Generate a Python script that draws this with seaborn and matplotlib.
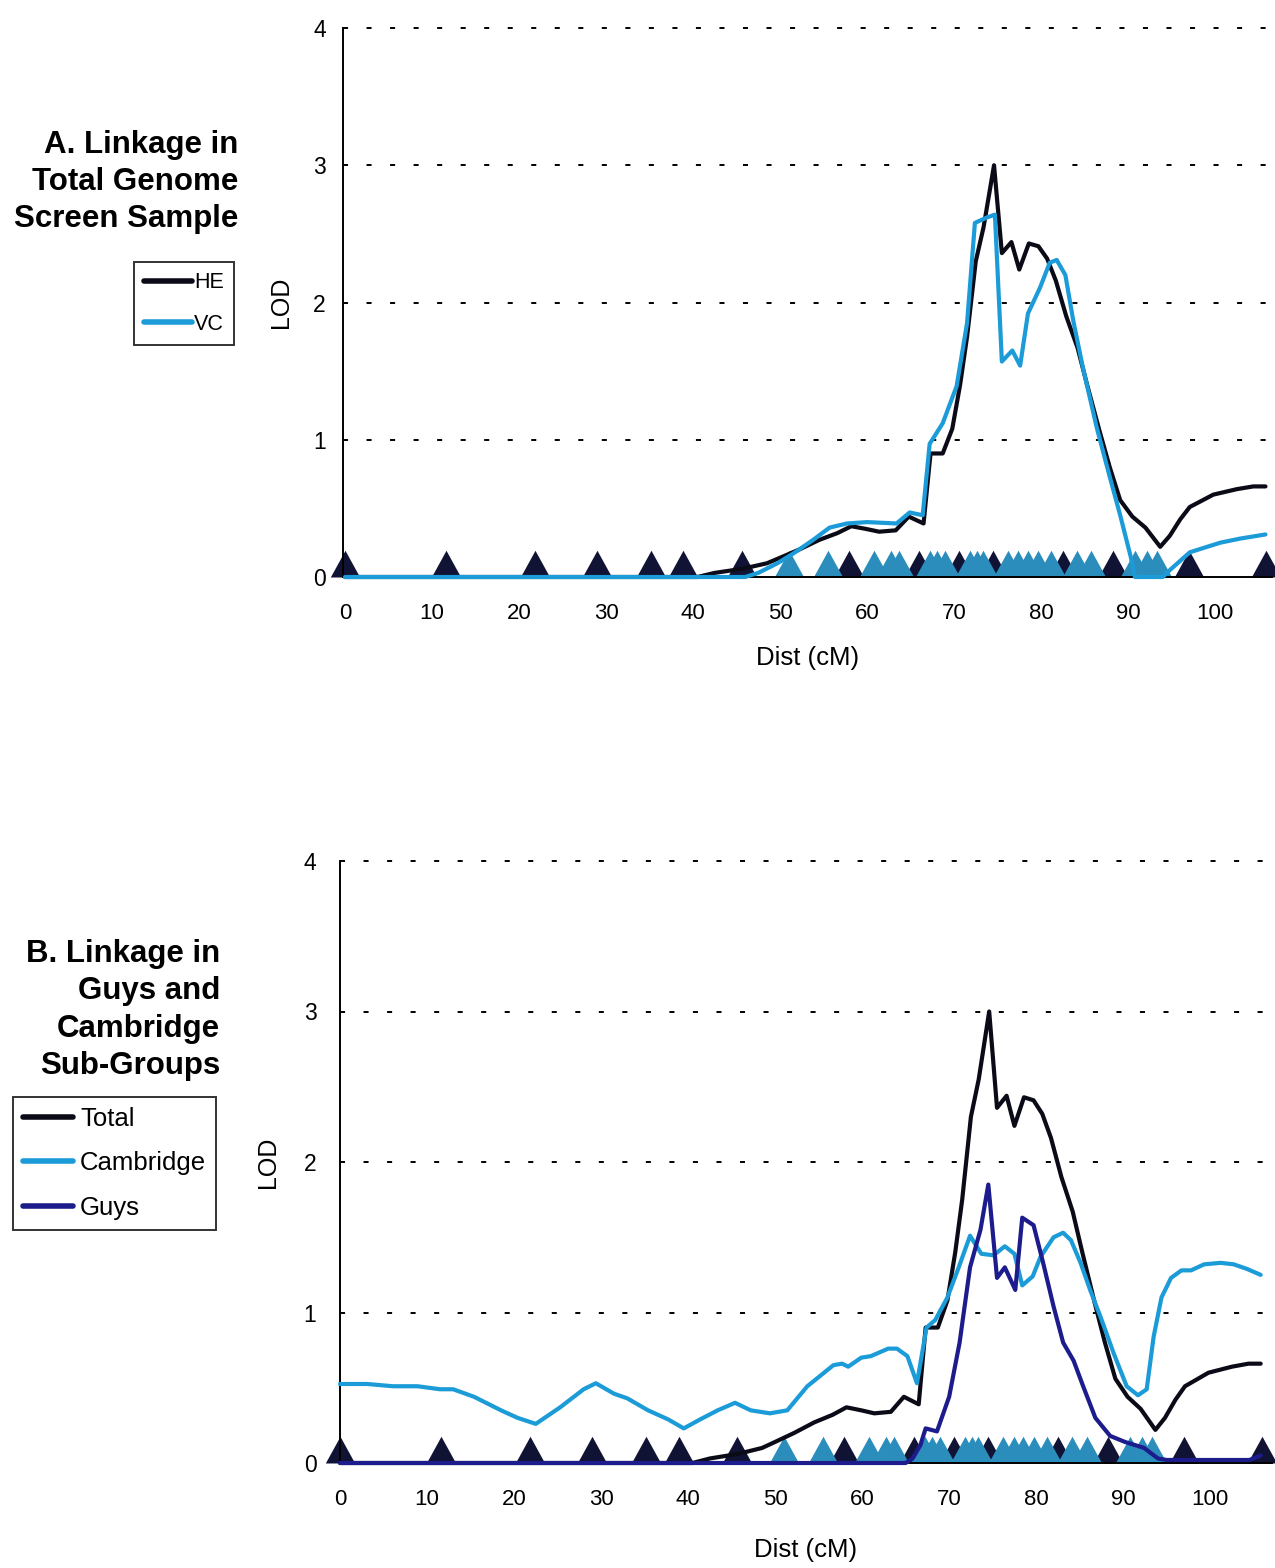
import numpy as np
import matplotlib
matplotlib.use("Agg")
import matplotlib.pyplot as plt
from matplotlib.markers import MarkerStyle
import seaborn as sns

# ---- marker positions along the chromosome (cM) ----
marker_dark_cm = [0, 11.6, 21.8, 29.0, 35.2, 38.9, 45.6, 57.9, 66.0, 70.6,
                  74.5, 82.5, 88.3, 97.0, 105.9]
marker_light_cm = [51.0, 55.5, 60.8, 62.8, 63.7, 67.2, 68.0, 69.0, 71.8, 72.6,
                   73.3, 76.2, 77.4, 78.5, 79.7, 81.2, 84.1, 85.8, 90.8, 92.2, 93.3]

# ---- HE / Total sample LOD curve ----
he_cm = [0, 40.5, 42.5, 45.7, 48.5, 50.0, 52.2, 54.5, 56.6, 58.2, 59.9, 61.4,
         63.3, 64.8, 66.5, 67.3, 68.7, 69.8, 70.7, 71.5, 72.5, 73.4, 74.6, 75.5,
         76.6, 77.5, 78.6, 79.7, 80.7, 81.7, 82.9, 84.2, 85.3, 86.7, 87.9, 89.1,
         90.5, 92.0, 93.7, 94.8, 96.0, 97.1, 98.6, 99.8, 102.5, 104.4, 105.8]
he_lod = [0, 0, 0.03, 0.06, 0.10, 0.14, 0.20, 0.27, 0.32, 0.37, 0.35, 0.33,
          0.34, 0.44, 0.39, 0.90, 0.90, 1.08, 1.40, 1.75, 2.30, 2.55, 3.00, 2.36,
          2.44, 2.24, 2.43, 2.41, 2.32, 2.16, 1.90, 1.67, 1.40, 1.07, 0.80, 0.56,
          0.44, 0.36, 0.22, 0.30, 0.42, 0.51, 0.56, 0.60, 0.64, 0.66, 0.66]

# ---- VC LOD curve ----
vc_cm = [0, 46.0, 47.5, 49.7, 51.5, 53.8, 55.7, 57.7, 60.0, 63.4, 64.9, 66.4,
         67.2, 68.7, 70.3, 71.5, 72.4, 73.8, 74.7, 75.5, 76.7, 77.6, 78.5, 79.9,
         81.0, 81.8, 82.8, 83.7, 84.8, 86.4, 87.9, 89.1, 90.3, 90.8, 94.0, 94.8,
         97.1, 100.6, 102.9, 105.8]
vc_lod = [0, 0, 0.03, 0.10, 0.17, 0.27, 0.36, 0.39, 0.40, 0.39, 0.47, 0.45,
          0.97, 1.12, 1.39, 1.85, 2.58, 2.62, 2.64, 1.57, 1.65, 1.54, 1.92, 2.11,
          2.29, 2.31, 2.20, 1.87, 1.53, 1.09, 0.73, 0.45, 0.15, 0.0, 0.0, 0.05,
          0.18, 0.25, 0.28, 0.31]

# ---- Cambridge sub-group LOD curve ----
cam_cm = [0, 3.1, 6.1, 8.9, 11.5, 13.0, 15.4, 18.5, 20.4, 22.5, 25.3, 28.0,
          29.4, 31.5, 33.0, 35.4, 37.7, 39.5, 41.4, 43.4, 45.4, 47.2, 49.4, 51.4,
          53.7, 56.7, 57.7, 58.4, 59.9, 61.0, 63.0, 64.0, 65.2, 66.3, 67.4, 68.4,
          69.8, 71.1, 72.4, 73.7, 75.1, 76.4, 77.5, 78.4, 79.6, 80.5, 82.0, 83.1,
          84.0, 85.1, 86.2, 87.4, 88.9, 90.4, 91.7, 92.7, 93.5, 94.4, 95.5, 96.7,
          97.8, 99.3, 101.2, 102.7, 104.2, 105.8]
cam_lod = [0.525, 0.525, 0.51, 0.51, 0.49, 0.49, 0.44, 0.35, 0.30, 0.26, 0.37, 0.49,
           0.53, 0.46, 0.43, 0.35, 0.29, 0.23, 0.29, 0.35, 0.40, 0.35, 0.33, 0.35,
           0.51, 0.65, 0.66, 0.64, 0.70, 0.71, 0.76, 0.76, 0.71, 0.53, 0.90, 0.95,
           1.10, 1.30, 1.51, 1.39, 1.38, 1.44, 1.39, 1.18, 1.24, 1.37, 1.50, 1.53,
           1.48, 1.33, 1.15, 0.97, 0.73, 0.51, 0.45, 0.49, 0.84, 1.10, 1.23, 1.28,
           1.28, 1.32, 1.33, 1.32, 1.29, 1.25]

# ---- Guys sub-group LOD curve ----
guys_cm = [0, 65.0, 65.8, 66.7, 67.3, 68.6, 70.0, 71.2, 72.4, 73.6, 74.5, 75.5,
           76.4, 77.6, 78.4, 79.7, 80.8, 82.0, 83.1, 84.3, 85.4, 86.8, 88.5, 90.2,
           92.4, 94.0, 95.0, 104.5, 105.8]
guys_lod = [0, 0, 0.03, 0.12, 0.23, 0.21, 0.44, 0.80, 1.30, 1.55, 1.85, 1.23,
            1.30, 1.15, 1.63, 1.58, 1.33, 1.04, 0.80, 0.68, 0.51, 0.30, 0.18, 0.14,
            0.10, 0.03, 0.02, 0.02, 0.05]

x_major = list(range(0, 101, 10))
x_minor = list(range(0, 106, 5))
y_ticks = [0, 1, 2, 3, 4]

C_BLACK = "#0b0b18"
C_LIGHT = "#1b9bd7"
C_NAVY = "#1c1c8c"
C_MK_DARK = "#111335"
C_MK_LIGHT = "#2b8dbb"

sns.set_style("white")
plt.rcParams["font.family"] = ["Liberation Sans", "DejaVu Sans"]
for key in ("text.color", "axes.labelcolor", "xtick.color", "ytick.color"):
    plt.rcParams[key] = "black"

fig = plt.figure(figsize=(12.75, 15.68), dpi=100)

# triangle whose base sits on the data point
tri = MarkerStyle([(-1.1, 0), (1.1, 0), (0, 2), (-1.1, 0)])
MK_SIZE = 38.5


def style_axes(ax, xlim, minor_ticks, ypad):
    ax.set_xlim(*xlim)
    ax.set_ylim(0, 4)
    ax.set_yticks(y_ticks)
    ax.set_xticks(x_major)
    ax.set_xticklabels([str(v) for v in x_major])
    if minor_ticks:
        ax.set_xticks(x_minor, minor=True)
        ax.tick_params(axis="x", which="minor", direction="out", length=6,
                       width=1.3, color="black")
    ax.tick_params(axis="x", which="major", direction="out", length=6,
                   width=1.3, color="black", labelsize=16, pad=13)
    ax.tick_params(axis="y", direction="out", length=6, width=1.3,
                   color="black", labelsize=16.5, pad=ypad)
    for s in ("top", "right"):
        ax.spines[s].set_visible(False)
    for s in ("left", "bottom"):
        ax.spines[s].set_color("black")
        ax.spines[s].set_linewidth(1.4)
    ax.grid(False)
    for yv in y_ticks[1:]:
        ax.axhline(yv, color="black", lw=1.4, ls=(0, (2.6, 9.5)), zorder=0.5,
                   clip_on=False)
    ax.set_facecolor("white")


def draw_markers(ax):
    sns.scatterplot(x=marker_dark_cm, y=[0] * len(marker_dark_cm), ax=ax,
                    marker=tri, s=MK_SIZE ** 2, color=C_MK_DARK, linewidth=0,
                    zorder=2, clip_on=False)
    sns.scatterplot(x=marker_light_cm, y=[0] * len(marker_light_cm), ax=ax,
                    marker=tri, s=MK_SIZE ** 2, color=C_MK_LIGHT, linewidth=0,
                    zorder=2.1, clip_on=False)


# ---------------- Panel A ----------------
axA = fig.add_axes([343 / 1275, 1 - 577 / 1568, (1272 - 343) / 1275, (577 - 28) / 1568])
style_axes(axA, (-0.23, 106.55), True, 6.5)
draw_markers(axA)
sns.lineplot(x=he_cm, y=he_lod, ax=axA, color=C_BLACK, lw=3.0, sort=False,
             estimator=None, zorder=3, clip_on=False)
hA1 = axA.lines[-1]
sns.lineplot(x=vc_cm, y=vc_lod, ax=axA, color=C_LIGHT, lw=3.0, sort=False,
             estimator=None, zorder=3.1, clip_on=False)
hA2 = axA.lines[-1]
axA.set_xlabel("Dist (cM)", fontsize=18.5)
axA.set_ylabel("LOD", fontsize=18)
axA.xaxis.set_label_coords(0.5, -0.125)
axA.yaxis.set_label_coords(-0.054, 0.5)

fig.text(238 / 1275, 1 - 182 / 1568, "A. Linkage in\nTotal Genome\nScreen Sample",
         ha="right", va="center", fontsize=22.5, fontweight="bold", linespacing=1.32)
legA = fig.legend([hA1, hA2], ["HE", "VC"], loc="upper left",
                  bbox_to_anchor=(134 / 1275, 1 - 262 / 1568), fontsize=15.5,
                  frameon=True, fancybox=False, edgecolor="black",
                  handlelength=2.2, handletextpad=0.12, labelspacing=0.95,
                  borderpad=0.48, borderaxespad=0)
legA.get_frame().set_linewidth(1.4)
for ln in legA.get_lines():
    ln.set_linewidth(4)

# ---------------- Panel B ----------------
axB = fig.add_axes([340 / 1275, 1 - 1463 / 1568, (1272 - 340) / 1275, (1463 - 861) / 1568])
style_axes(axB, (0, 107.1), False, 11)
draw_markers(axB)
sns.lineplot(x=he_cm, y=he_lod, ax=axB, color=C_BLACK, lw=3.0, sort=False,
             estimator=None, zorder=3, clip_on=False)
hB1 = axB.lines[-1]
sns.lineplot(x=cam_cm, y=cam_lod, ax=axB, color=C_LIGHT, lw=3.0, sort=False,
             estimator=None, zorder=3.1, clip_on=False)
hB2 = axB.lines[-1]
sns.lineplot(x=guys_cm, y=guys_lod, ax=axB, color=C_NAVY, lw=3.0, sort=False,
             estimator=None, zorder=3.2, clip_on=False)
hB3 = axB.lines[-1]
axB.set_xlabel("Dist (cM)", fontsize=18.5)
axB.set_ylabel("LOD", fontsize=18)
axB.xaxis.set_label_coords(0.5, -0.125)
axB.yaxis.set_label_coords(-0.064, 0.5)

fig.text(220 / 1275, 1 - 1010 / 1568, "B. Linkage in\nGuys and\nCambridge\nSub-Groups",
         ha="right", va="center", fontsize=22.5, fontweight="bold", linespacing=1.32)
legB = fig.legend([hB1, hB2, hB3], ["Total", "Cambridge", "Guys"], loc="upper left",
                  bbox_to_anchor=(13 / 1275, 1 - 1097 / 1568), fontsize=18.5,
                  frameon=True, fancybox=False, edgecolor="black",
                  handlelength=1.95, handletextpad=0.28, labelspacing=0.8,
                  borderpad=0.38, borderaxespad=0)
legB.get_frame().set_linewidth(1.4)
for ln in legB.get_lines():
    ln.set_linewidth(4)

fig.savefig("out.png", dpi=100, facecolor="white")
